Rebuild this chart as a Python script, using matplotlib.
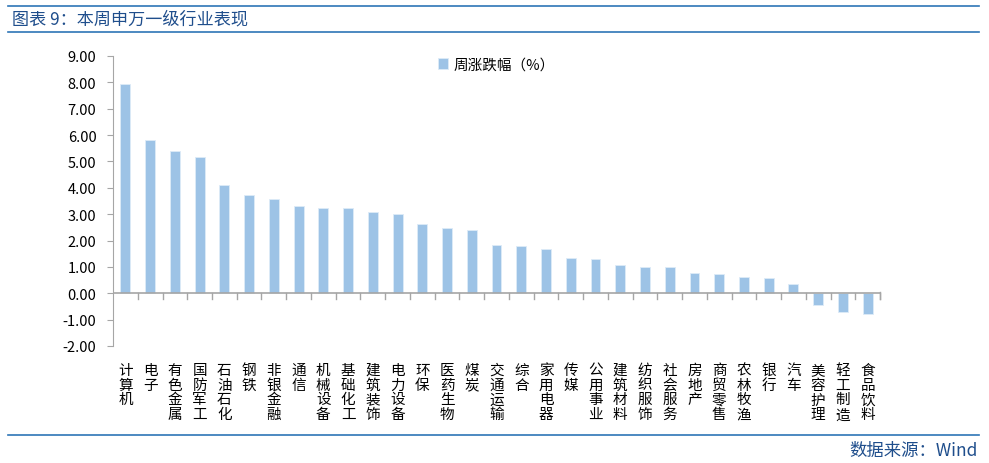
import matplotlib
matplotlib.use('Agg')
import matplotlib.pyplot as plt
import numpy as np

plt.rcParams['font.family'] = ['Noto Sans CJK SC', 'DejaVu Sans']

# industries and weekly change (%)
industries = ["计算机", "电子", "有色金属", "国防军工", "石油石化", "钢铁", "非银金融", "通信",
              "机械设备", "基础化工", "建筑装饰", "电力设备", "环保", "医药生物", "煤炭", "交通运输",
              "综合", "家用电器", "传媒", "公用事业", "建筑材料", "纺织服饰", "社会服务", "房地产",
              "商贸零售", "农林牧渔", "银行", "汽车", "美容护理", "轻工制造", "食品饮料"]
change = [7.94, 5.82, 5.41, 5.17, 4.11, 3.71, 3.56, 3.32, 3.25, 3.23, 3.10, 2.99, 2.62, 2.48, 2.41, 1.84,
          1.81, 1.66, 1.32, 1.31, 1.07, 0.98, 0.98, 0.75, 0.73, 0.60, 0.58, 0.35, -0.43, -0.72, -0.80]
yticks = np.arange(-2, 10, 1)

bar_color = '#9DC3E6'
axis_color = '#A6A6A6'
title_color = '#1F4E8C'
line_color = '#2E75B6'

fig = plt.figure(figsize=(9.89, 4.64), dpi=100)
ax = fig.add_axes([0.1143, 0.2522, 0.7755, 0.625])

x = np.arange(len(industries))
ax.bar(x, change, width=0.4, color=bar_color, edgecolor='#DDEBF7', linewidth=0.6, label='周涨跌幅（%）')

ax.set_ylim(-2, 9)
ax.set_yticks(yticks)
ax.set_yticklabels([f'{v:.2f}' for v in yticks], fontsize=10.5, color='#000000')
ax.set_xlim(-0.5, len(industries) - 0.5)

# x axis drawn at zero, ticks between categories
for s in ['top', 'right', 'bottom']:
    ax.spines[s].set_visible(False)
ax.spines['left'].set_color(axis_color)
ax.axhline(0, color=axis_color, lw=1.2, zorder=3)
ax.tick_params(axis='y', direction='out', length=4, color=axis_color, pad=8)
ax.tick_params(axis='x', length=0)
ax.set_xticks([])
for b in np.arange(0.5, len(industries), 1.0):
    ax.plot([b, b], [0, -0.2], color=axis_color, lw=1.0, zorder=3, clip_on=False)
ax.plot([len(industries) - 0.5] * 2, [0.05, -0.2], color=axis_color, lw=1.0, zorder=3, clip_on=False)

# vertical stacked labels
for i, name in enumerate(industries):
    ax.annotate('\n'.join(name), (i, -2), xytext=(0, -12), textcoords='offset points',
                ha='center', va='top', fontsize=10.5, linespacing=1.08)

ax.legend(loc='upper center', bbox_to_anchor=(0.5, 1.04), frameon=False, fontsize=10.5,
          handlelength=0.7, handleheight=0.7, handletextpad=0.4)

# header / footer
fig.add_artist(plt.Line2D([0.008, 0.99], [1 - 7 / 464] * 2, color=line_color, lw=1.2))
fig.add_artist(plt.Line2D([0.008, 0.99], [1 - 33 / 464] * 2, color=line_color, lw=1.2))
fig.add_artist(plt.Line2D([0.008, 0.99], [1 - 436 / 464] * 2, color=line_color, lw=1.2))
fig.text(12 / 989, 1 - 20 / 464, '图表 9：本周申万一级行业表现', fontsize=12.3, color=title_color,
         va='center', ha='left')
fig.text(978 / 989, 1 - 451 / 464, '数据来源：Wind', fontsize=12.5, color=title_color,
         va='center', ha='right')

fig.savefig('out.png', dpi=100)
